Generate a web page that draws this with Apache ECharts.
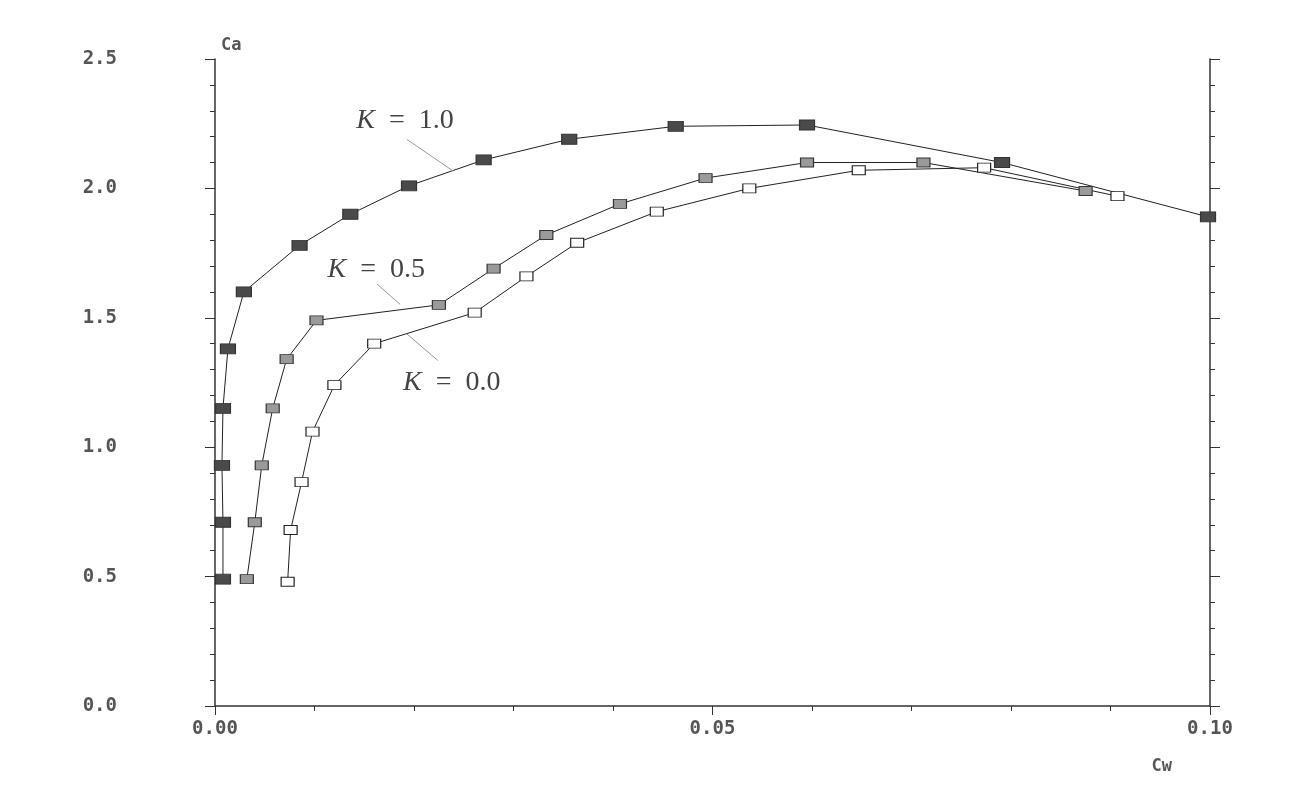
<!DOCTYPE html>
<html><head><meta charset="utf-8">
<script src="https://cdn.jsdelivr.net/npm/echarts@6/dist/echarts.min.js"></script>
<style>html,body{margin:0;padding:0;background:#fff}#c{width:1295px;height:799px}</style>
</head><body><div id="c"></div>
<script>
// ---- data ----
const k10Cw = [0.0008,0.0008,0.0007,0.0008,0.0013,0.0029,0.0085,0.0136,0.0195,0.0270,0.0356,0.0463,0.0595,0.0791,0.0998];
const k10Ca = [0.49,0.71,0.93,1.15,1.38,1.60,1.78,1.90,2.01,2.11,2.19,2.24,2.245,2.10,1.89];
const k05Cw = [0.0032,0.0040,0.0047,0.0058,0.0072,0.0102,0.0225,0.0280,0.0333,0.0407,0.0493,0.0595,0.0712,0.0875];
const k05Ca = [0.49,0.71,0.93,1.15,1.34,1.49,1.55,1.69,1.82,1.94,2.04,2.10,2.10,1.99];
const k00Cw = [0.0073,0.0076,0.0087,0.0098,0.0120,0.0160,0.0261,0.0313,0.0364,0.0444,0.0537,0.0647,0.0773,0.0907];
const k00Ca = [0.48,0.68,0.865,1.06,1.24,1.40,1.52,1.66,1.79,1.91,2.00,2.07,2.08,1.97];
const seriesNames = ['K = 1.0','K = 0.5','K = 0.0'];
const kLabels = ['1.0','0.5','0.0'];
const xTicks = [0.00,0.05,0.10];
const yTicks = [0.0,0.5,1.0,1.5,2.0,2.5];
const xName = 'Cw';
const yName = 'Ca';
// annotation anchors in data space: text centre, leader start, leader end
const annText = [[0.0191,2.262],[0.0162,1.688],[0.0238,1.250]];
const annFrom = [[0.0193,2.189],[0.0163,1.630],[0.0224,1.335]];
const annTo   = [[0.0239,2.068],[0.0186,1.552],[0.0193,1.437]];

function zip(a,b){return a.map((v,i)=>[v,b[i]]);}

const chart = echarts.init(document.getElementById('c'), null, {renderer:'canvas'});
const labelFont = {fontFamily:'"DejaVu Sans Mono", monospace', fontWeight:'bold', fontSize:19, color:'#555'};

function mkSeries(name, data, fill, border, size){
  return {
    name, type:'line', data, symbol:'rect', symbolSize:size, showAllSymbol:true,
    lineStyle:{color:'#222', width:1}, itemStyle:{color:fill, borderColor:border, borderWidth:1},
    emphasis:{disabled:true}, z:3, animation:false
  };
}

const option = {
  animation:false,
  backgroundColor:'#fff',
  grid:{left:215, right:85, top:59, bottom:93},
  xAxis:{
    type:'value', min:0, max:0.1, interval:0.05,
    name:xName, nameLocation:'end', nameGap:0,
    nameTextStyle:{...labelFont, fontSize:17, align:'right', verticalAlign:'top', padding:[52,38,0,0]},
    axisLine:{show:true, onZero:false, lineStyle:{color:'#333', width:1.5}},
    axisTick:{show:true, length:9, lineStyle:{color:'#333'}},
    minorTick:{show:true, splitNumber:5, length:5, lineStyle:{color:'#333'}},
    splitLine:{show:false},
    axisLabel:{...labelFont, margin:14, formatter:v=>{const t=xTicks.find(x=>Math.abs(x-v)<1e-9);return t===undefined?'':t.toFixed(2);}}
  },
  yAxis:[{
    type:'value', min:0, max:2.5, interval:0.5, position:'left',
    name:yName, nameLocation:'end', nameGap:5,
    nameTextStyle:{...labelFont, fontSize:17, align:'left', padding:[0,0,0,6]},
    axisLine:{show:true, onZero:false, lineStyle:{color:'#333', width:1.5}},
    axisTick:{show:true, length:10, lineStyle:{color:'#333'}},
    minorTick:{show:true, splitNumber:5, length:5, lineStyle:{color:'#333'}},
    splitLine:{show:false},
    axisLabel:{...labelFont, margin:98, padding:[0,0,6,0], formatter:v=>{const t=yTicks.find(x=>Math.abs(x-v)<1e-9);return t===undefined?'':t.toFixed(1);}}
  },{
    type:'value', min:0, max:2.5, interval:0.5, position:'right',
    axisLine:{show:true, onZero:false, lineStyle:{color:'#333', width:1.5}},
    axisTick:{show:true, length:10, lineStyle:{color:'#333'}},
    minorTick:{show:true, splitNumber:5, length:5, lineStyle:{color:'#333'}},
    splitLine:{show:false}, axisLabel:{show:false}
  }],
  series:[
    mkSeries(seriesNames[0], zip(k10Cw,k10Ca), '#4a4a4a', '#333', [15,10]),
    mkSeries(seriesNames[1], zip(k05Cw,k05Ca), '#9a9a9a', '#333', [13,9]),
    mkSeries(seriesNames[2], zip(k00Cw,k00Ca), '#ffffff', '#222', [13,9])
  ]
};
chart.setOption(option);

const graphics = [];
for (let i=0;i<kLabels.length;i++){
  const p = chart.convertToPixel({gridIndex:0}, annText[i]);
  const a = chart.convertToPixel({gridIndex:0}, annFrom[i]);
  const b = chart.convertToPixel({gridIndex:0}, annTo[i]);
  graphics.push({type:'line', shape:{x1:a[0],y1:a[1],x2:b[0],y2:b[1]}, style:{stroke:'#999', lineWidth:1}, z:10, silent:true});
  graphics.push({type:'text', x:p[0], y:p[1], z:10, silent:true, style:{
    text:'{k|K}{e|=}{n|'+kLabels[i]+'}', align:'center', verticalAlign:'middle',
    rich:{
      k:{fontFamily:'"Liberation Serif", serif', fontStyle:'italic', fontSize:28, fill:'#444', padding:[0,14,0,0]},
      e:{fontFamily:'"Liberation Serif", serif', fontSize:28, fill:'#444', padding:[0,14,0,0]},
      n:{fontFamily:'"Liberation Serif", serif', fontSize:28, fill:'#444'}
    }
  }});
}
chart.setOption({graphic:graphics});
</script>
</body></html>
